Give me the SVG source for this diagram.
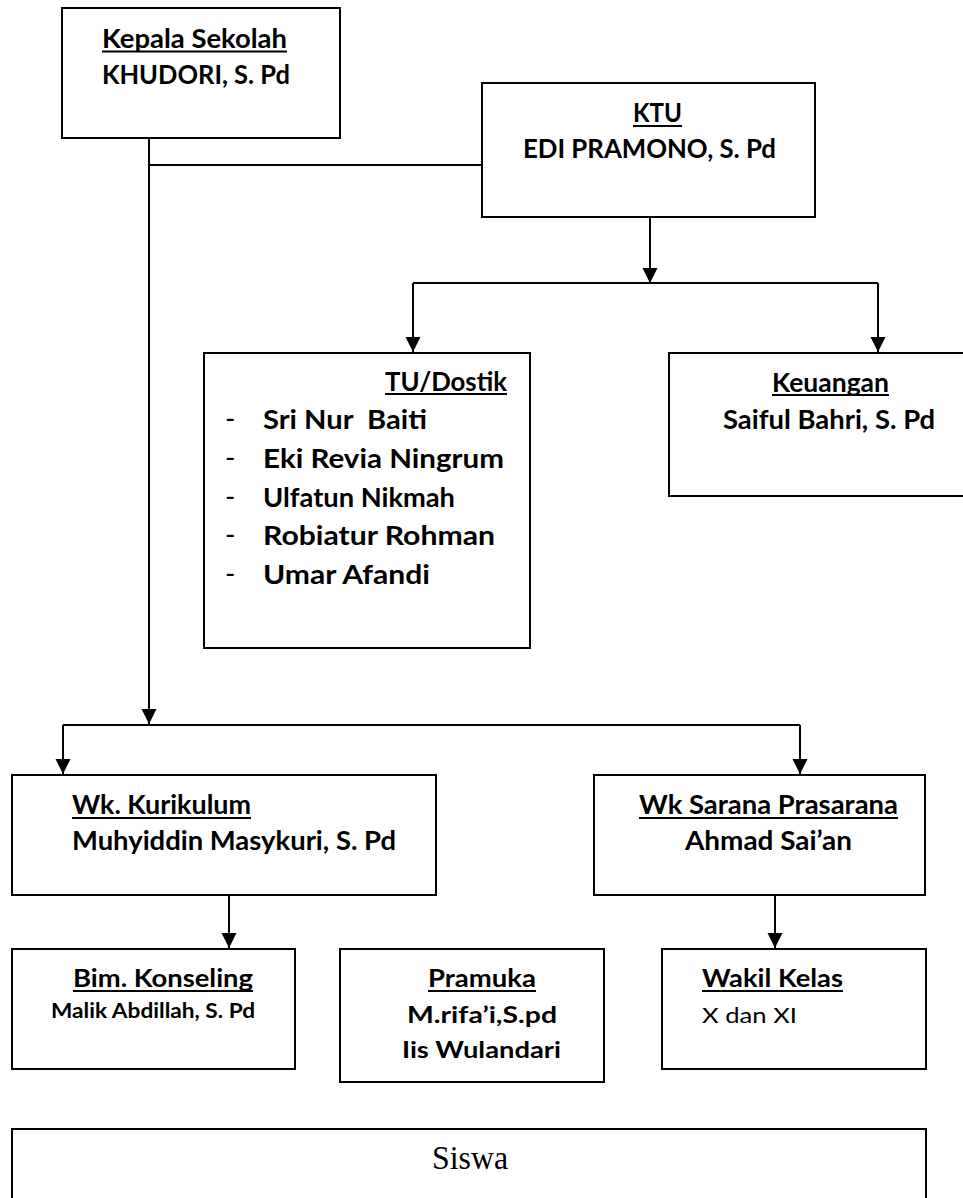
<svg xmlns="http://www.w3.org/2000/svg" width="963" height="1198" viewBox="0 0 963 1198">
<style>
.box{fill:#fff;stroke:#000;stroke-width:2}
.t{font-family:Lato,"Open Sans","Liberation Sans",sans-serif;font-weight:bold;fill:#000}
.r{font-family:Lato,"Open Sans","Liberation Sans",sans-serif;font-weight:normal;fill:#000}
.ul{stroke:#000;stroke-width:1.8}
.c{fill:none;stroke:#000;stroke-width:2}
</style>
<defs>
<marker id="ah" viewBox="0 0 10 10" refX="10" refY="5" markerWidth="15" markerHeight="16" markerUnits="userSpaceOnUse" orient="auto">
<path d="M0,0 L10,5 L0,10 z" fill="#000"/>
</marker>
</defs>
<rect width="963" height="1198" fill="#fff"/>
<g id="connectors">
<path class="c" d="M149,138 V724" marker-end="url(#ah)"/>
<path class="c" d="M149,165 H482"/>
<path class="c" d="M650,217 V283" marker-end="url(#ah)"/>
<path class="c" d="M413,283 H878"/>
<path class="c" d="M413,283 V352" marker-end="url(#ah)"/>
<path class="c" d="M878,283 V352" marker-end="url(#ah)"/>
<path class="c" d="M63,725 H800"/>
<path class="c" d="M63,725 V774" marker-end="url(#ah)"/>
<path class="c" d="M800,725 V774" marker-end="url(#ah)"/>
<path class="c" d="M229,895 V948" marker-end="url(#ah)"/>
<path class="c" d="M775,895 V948" marker-end="url(#ah)"/>
</g>
<g id="kepala">
<rect class="box" x="62" y="8" width="278" height="130"/>
<text class="t" x="102" y="48" font-size="26" textLength="185" lengthAdjust="spacingAndGlyphs">Kepala Sekolah</text>
<line class="ul" x1="102" y1="51.5" x2="287" y2="51.5"/>
<text class="t" x="102" y="84" font-size="26" textLength="188" lengthAdjust="spacingAndGlyphs">KHUDORI, S. Pd</text>
</g>
<g id="ktu">
<rect class="box" x="482" y="83" width="333" height="134"/>
<text class="t" x="633" y="122" font-size="26" textLength="49" lengthAdjust="spacingAndGlyphs">KTU</text>
<line class="ul" x1="633" y1="126" x2="682" y2="126"/>
<text class="t" x="523" y="158" font-size="26" textLength="253" lengthAdjust="spacingAndGlyphs">EDI PRAMONO, S. Pd</text>
</g>
<g id="tu">
<rect class="box" x="204" y="353" width="326" height="295"/>
<text class="t" x="385" y="391" font-size="26" textLength="122" lengthAdjust="spacingAndGlyphs">TU/Dostik</text>
<line class="ul" x1="385" y1="394" x2="507" y2="394"/>
<g class="r" font-size="28">
<text x="225" y="429">-</text>
<text x="225" y="468">-</text>
<text x="225" y="507">-</text>
<text x="225" y="545">-</text>
<text x="225" y="584">-</text>
</g>
<text class="t" x="263" y="429" font-size="27" textLength="164" lengthAdjust="spacingAndGlyphs" xml:space="preserve">Sri Nur  Baiti</text>
<text class="t" x="263" y="468" font-size="27" textLength="241" lengthAdjust="spacingAndGlyphs">Eki Revia Ningrum</text>
<text class="t" x="263" y="507" font-size="27" textLength="192" lengthAdjust="spacingAndGlyphs">Ulfatun Nikmah</text>
<text class="t" x="263" y="545" font-size="27" textLength="232" lengthAdjust="spacingAndGlyphs">Robiatur Rohman</text>
<text class="t" x="263" y="584" font-size="27" textLength="167" lengthAdjust="spacingAndGlyphs">Umar Afandi</text>
</g>
<g id="keuangan">
<rect class="box" x="669" y="353" width="300" height="143"/>
<text class="t" x="772" y="392" font-size="26" textLength="117" lengthAdjust="spacingAndGlyphs">Keuangan</text>
<line class="ul" x1="772" y1="395" x2="889" y2="395"/>
<text class="t" x="723" y="429" font-size="26" textLength="212" lengthAdjust="spacingAndGlyphs">Saiful Bahri, S. Pd</text>
</g>
<g id="kurikulum">
<rect class="box" x="12" y="775" width="424" height="120"/>
<text class="t" x="72" y="814" font-size="26" textLength="179" lengthAdjust="spacingAndGlyphs">Wk. Kurikulum</text>
<line class="ul" x1="72" y1="818" x2="251" y2="818"/>
<text class="t" x="72" y="850" font-size="26" textLength="324" lengthAdjust="spacingAndGlyphs">Muhyiddin Masykuri, S. Pd</text>
</g>
<g id="sarana">
<rect class="box" x="594" y="775" width="331" height="120"/>
<text class="t" x="639" y="814" font-size="26" textLength="259" lengthAdjust="spacingAndGlyphs">Wk Sarana Prasarana</text>
<line class="ul" x1="639" y1="818" x2="898" y2="818"/>
<text class="t" x="685" y="850" font-size="26" textLength="167" lengthAdjust="spacingAndGlyphs">Ahmad Sai’an</text>
</g>
<g id="bimkonseling">
<rect class="box" x="12" y="949" width="283" height="120"/>
<text class="t" x="73" y="987" font-size="24" textLength="180" lengthAdjust="spacingAndGlyphs">Bim. Konseling</text>
<line class="ul" x1="73" y1="991" x2="253" y2="991"/>
<text class="t" x="51" y="1018" font-size="21" textLength="204" lengthAdjust="spacingAndGlyphs">Malik Abdillah, S. Pd</text>
</g>
<g id="pramuka">
<rect class="box" x="340" y="949" width="264" height="133"/>
<text class="t" x="428" y="987" font-size="24" textLength="108" lengthAdjust="spacingAndGlyphs">Pramuka</text>
<line class="ul" x1="428" y1="991" x2="536" y2="991"/>
<text class="t" x="407" y="1023" font-size="23" textLength="150" lengthAdjust="spacingAndGlyphs">M.rifa’i,S.pd</text>
<text class="t" x="402" y="1058" font-size="23" textLength="159" lengthAdjust="spacingAndGlyphs">Iis Wulandari</text>
</g>
<g id="wakilkelas">
<rect class="box" x="662" y="949" width="264" height="120"/>
<text class="t" x="702" y="987" font-size="24" textLength="141" lengthAdjust="spacingAndGlyphs">Wakil Kelas</text>
<line class="ul" x1="702" y1="991" x2="843" y2="991"/>
<text class="r" x="702" y="1023" font-size="22" textLength="95" lengthAdjust="spacingAndGlyphs">X dan XI</text>
</g>
<g id="siswa">
<rect class="box" x="12" y="1129" width="914" height="100"/>
<text x="432" y="1169" font-family="'Liberation Serif','Times New Roman',serif" font-size="33" textLength="76" lengthAdjust="spacingAndGlyphs" fill="#000">Siswa</text>
</g>
</svg>
